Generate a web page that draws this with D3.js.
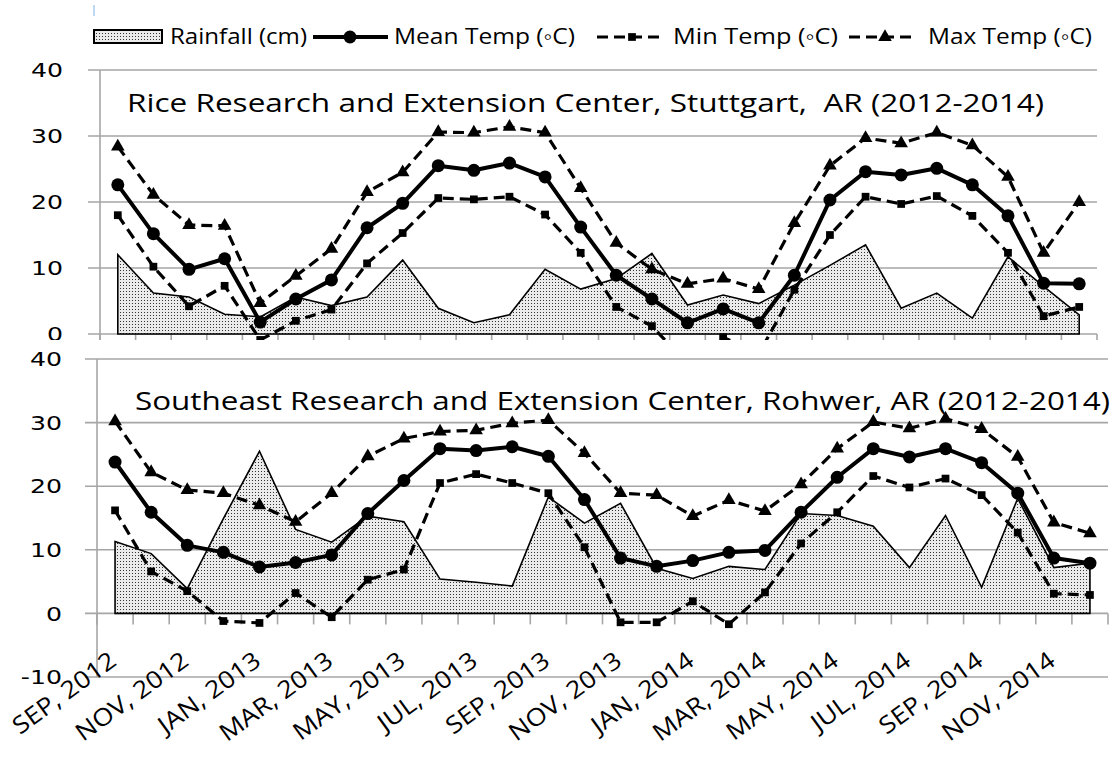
<!DOCTYPE html>
<html>
<head>
<meta charset="utf-8">
<script src="https://cdn.jsdelivr.net/npm/d3@7"></script>
<style>
  body { margin: 0; background: #fff; }
  svg text { font-family: "Open Sans", "Noto Sans", sans-serif; fill: #000; }
</style>
</head>
<body>
<svg id="chart" width="1116" height="761"></svg>
<script>
// Monthly climate, Sep 2012 – Dec 2014
const months = [
  "SEP, 2012","OCT, 2012","NOV, 2012","DEC, 2012",
  "JAN, 2013","FEB, 2013","MAR, 2013","APR, 2013","MAY, 2013","JUN, 2013",
  "JUL, 2013","AUG, 2013","SEP, 2013","OCT, 2013","NOV, 2013","DEC, 2013",
  "JAN, 2014","FEB, 2014","MAR, 2014","APR, 2014","MAY, 2014","JUN, 2014",
  "JUL, 2014","AUG, 2014","SEP, 2014","OCT, 2014","NOV, 2014","DEC, 2014"
];
const yTicks = [-10, 0, 10, 20, 30, 40];

const legendLabels = ["Rainfall (cm)", "Mean Temp (\u25e6C)", "Min Temp (\u25e6C)", "Max Temp (\u25e6C)"];

// Stuttgart
const stuttgartTitle = "Rice Research and Extension Center, Stuttgart,  AR (2012-2014)";
const stuttgartRain = [12.0, 6.2, 5.6, 3.0, 2.6, 5.6, 4.3, 5.6, 11.2, 3.9, 1.7, 2.9, 9.8, 6.8, 8.4, 12.2, 4.4, 5.9, 4.6, 7.4, 10.4, 13.5, 3.9, 6.2, 2.4, 11.7, 7.2, 2.9];
const stuttgartMean = [22.6, 15.2, 9.8, 11.4, 1.8, 5.3, 8.2, 16.1, 19.8, 25.5, 24.8, 25.9, 23.8, 16.2, 8.9, 5.3, 1.7, 3.8, 1.7, 8.9, 20.3, 24.6, 24.1, 25.1, 22.6, 17.9, 7.7, 7.6];
const stuttgartMin = [18.0, 10.2, 4.2, 7.3, -0.9, 2.0, 3.7, 10.7, 15.3, 20.6, 20.4, 20.8, 18.1, 12.3, 4.1, 1.2, -4.5, -0.5, -3.0, 6.7, 15.0, 20.8, 19.7, 20.9, 17.9, 12.3, 2.7, 4.1];
const stuttgartMax = [28.4, 21.1, 16.5, 16.4, 4.7, 8.8, 12.9, 21.5, 24.5, 30.6, 30.5, 31.4, 30.5, 22.1, 13.8, 9.8, 7.6, 8.4, 6.8, 16.8, 25.5, 29.7, 28.9, 30.5, 28.6, 23.8, 12.3, 20.0];

// Rohwer
const rohwerTitle = "Southeast Research and Extension Center, Rohwer, AR (2012-2014)";
const rohwerRain = [11.3, 9.4, 3.9, 14.9, 25.5, 13.2, 11.2, 15.3, 14.4, 5.4, 4.9, 4.3, 18.3, 14.2, 17.3, 7.1, 5.5, 7.4, 6.9, 15.7, 15.4, 13.7, 7.2, 15.4, 4.1, 18.1, 7.2, 7.9];
const rohwerMean = [23.8, 15.9, 10.7, 9.6, 7.3, 8.0, 9.2, 15.7, 20.9, 25.9, 25.6, 26.2, 24.7, 17.9, 8.7, 7.4, 8.3, 9.6, 9.9, 15.9, 21.4, 25.9, 24.6, 25.9, 23.7, 18.9, 8.7, 7.9];
const rohwerMin = [16.2, 6.6, 3.5, -1.2, -1.5, 3.2, -0.6, 5.3, 6.9, 20.5, 21.9, 20.5, 18.9, 10.4, -1.4, -1.4, 1.9, -1.7, 3.3, 11.0, 15.9, 21.6, 19.8, 21.2, 18.6, 12.7, 3.1, 2.9];
const rohwerMax = [30.2, 22.2, 19.4, 18.9, 17.0, 14.4, 18.9, 24.7, 27.5, 28.6, 28.8, 29.9, 30.4, 25.2, 18.9, 18.6, 15.3, 17.8, 16.1, 20.3, 25.9, 30.1, 29.1, 30.6, 29.0, 24.6, 14.3, 12.6];

const svg = d3.select("#chart");
const GRID = "#a6a6a6";

// dotted fill for the rainfall area
const defs = svg.append("defs");
const pat = defs.append("pattern").attr("id", "dots")
  .attr("patternUnits", "userSpaceOnUse").attr("width", 3).attr("height", 3);
pat.append("rect").attr("width", 3).attr("height", 3).attr("fill", "#ebebeb");
pat.append("rect").attr("width", 1).attr("height", 1).attr("fill", "#333");

const triangle = d3.symbol().type(d3.symbolTriangle).size(80)();
const square = d3.symbol().type(d3.symbolSquare).size(60)();

function drawPanel(cfg) {
  const g = svg.append("g");
  const x = d3.scaleBand().domain(months).range([cfg.x0, cfg.x1]).padding(0);
  const cx = m => x(m) + x.bandwidth() / 2;
  const y = d3.scaleLinear().domain([-10, 40]).range([cfg.yBottom, cfg.yTop]);

  // horizontal gridlines
  g.append("g").selectAll("line").data(cfg.gridTicks).join("line")
    .attr("x1", cfg.x0 - 12).attr("x2", cfg.x1)
    .attr("y1", d => y(d)).attr("y2", d => y(d))
    .attr("stroke", GRID).attr("stroke-width", 1.6);

  // value axis line
  g.append("line").attr("x1", cfg.x0).attr("x2", cfg.x0)
    .attr("y1", y(40)).attr("y2", cfg.axisEnd)
    .attr("stroke", GRID).attr("stroke-width", 1.6);

  // category tick marks hanging below the zero line
  const edges = months.map(m => x(m)).concat([cfg.x1]);
  g.append("g").selectAll("line").data(edges).join("line")
    .attr("x1", d => d).attr("x2", d => d)
    .attr("y1", y(0)).attr("y2", y(0) + cfg.tickLen)
    .attr("stroke", GRID).attr("stroke-width", 1.6);

  // value labels
  g.append("g").selectAll("text").data(cfg.labelTicks).join("text")
    .attr("transform", d => `translate(${cfg.labelX},${y(d)}) scale(1.26,1)`)
    .attr("text-anchor", "end").attr("dy", "0.36em")
    .style("font-family", "'DejaVu Sans', sans-serif")
    .attr("font-size", 20).text(d => d);

  // rainfall area
  const area = d3.area().x((d, i) => cx(months[i])).y0(y(0)).y1(d => y(d));
  g.append("path").datum(cfg.rain).attr("d", area)
    .attr("fill", "url(#dots)").attr("stroke", "#000").attr("stroke-width", 1.6)
    .attr("stroke-linejoin", "miter");

  const line = d3.line().x((d, i) => cx(months[i])).y(d => y(d));

  // min temperature
  g.append("path").datum(cfg.min).attr("d", line)
    .attr("fill", "none").attr("stroke", "#000").attr("stroke-width", 3.2)
    .attr("stroke-dasharray", "11,6");
  g.append("g").selectAll("path").data(cfg.min).join("path")
    .attr("d", square).attr("transform", (d, i) => `translate(${cx(months[i])},${y(d)})`);

  // max temperature
  g.append("path").datum(cfg.max).attr("d", line)
    .attr("fill", "none").attr("stroke", "#000").attr("stroke-width", 3.2)
    .attr("stroke-dasharray", "11,6");
  g.append("g").selectAll("path").data(cfg.max).join("path")
    .attr("d", triangle).attr("transform", (d, i) => `translate(${cx(months[i])},${y(d)})`);

  // mean temperature
  g.append("path").datum(cfg.mean).attr("d", line)
    .attr("fill", "none").attr("stroke", "#000").attr("stroke-width", 4)
    .attr("stroke-linejoin", "round");
  g.append("g").selectAll("circle").data(cfg.mean).join("circle")
    .attr("cx", (d, i) => cx(months[i])).attr("cy", d => y(d)).attr("r", 6.5);

  // station title
  g.append("text").attr("x", cfg.titleX0).attr("y", cfg.titleY)
    .attr("font-size", 26).attr("fill", "#111")
    .attr("textLength", cfg.titleX1 - cfg.titleX0).attr("lengthAdjust", "spacingAndGlyphs")
    .style("white-space", "pre").text(cfg.title);

  return { g, x, y, cx };
}

// upper panel: Stuttgart
drawPanel({
  x0: 100, x1: 1097, yTop: 70, yBottom: 400, axisEnd: 340, tickLen: 6,
  gridTicks: [0, 10, 20, 30, 40], labelTicks: [0, 10, 20, 30, 40], labelX: 63,
  rain: stuttgartRain, mean: stuttgartMean, min: stuttgartMin, max: stuttgartMax,
  title: stuttgartTitle, titleX0: 127, titleX1: 1044, titleY: 112
});

// lower panel sits on its own white sheet over the upper one
svg.append("rect").attr("x", 0).attr("y", 340).attr("width", 1116).attr("height", 421).attr("fill", "#fff");

const low = drawPanel({
  x0: 97, x1: 1108, yTop: 359, yBottom: 677, axisEnd: 677, tickLen: 11,
  gridTicks: yTicks, labelTicks: yTicks, labelX: 62,
  rain: rohwerRain, mean: rohwerMean, min: rohwerMin, max: rohwerMax,
  title: rohwerTitle, titleX0: 135, titleX1: 1110, titleY: 410
});

// month labels, every second month, slanted
const shown = months.filter((m, i) => i % 2 === 0);
low.g.append("g").selectAll("text").data(shown).join("text")
  .attr("transform", m => `translate(${low.cx(m) + 3},664) rotate(-36) scale(1.12,1)`)
  .attr("text-anchor", "end").attr("font-size", 24).text(m => m);

// legend
const lg = svg.append("g");
const legY = 37;
lg.append("line").attr("x1", 94).attr("x2", 94).attr("y1", 5).attr("y2", 16)
  .attr("stroke", "#7fb2e5").attr("stroke-width", 1);
lg.append("rect").attr("x", 94).attr("y", 30).attr("width", 68).attr("height", 13)
  .attr("fill", "url(#dots)").attr("stroke", "#000").attr("stroke-width", 2);
lg.append("line").attr("x1", 313).attr("x2", 388).attr("y1", legY).attr("y2", legY)
  .attr("stroke", "#000").attr("stroke-width", 4);
lg.append("circle").attr("cx", 350).attr("cy", legY).attr("r", 6.5);
lg.append("line").attr("x1", 597).attr("x2", 662).attr("y1", legY).attr("y2", legY)
  .attr("stroke", "#000").attr("stroke-width", 3.2).attr("stroke-dasharray", "11,6");
lg.append("path").attr("d", square).attr("transform", `translate(632,${legY})`);
lg.append("line").attr("x1", 849).attr("x2", 915).attr("y1", legY).attr("y2", legY)
  .attr("stroke", "#000").attr("stroke-width", 3.2).attr("stroke-dasharray", "11,6");
lg.append("path").attr("d", triangle).attr("transform", `translate(885,${legY})`);

const legText = [[170, 307], [394, 575], [673, 838], [928, 1092]];
lg.selectAll("text.leg").data(legendLabels).join("text").attr("class", "leg")
  .attr("x", (d, i) => legText[i][0]).attr("y", 44)
  .attr("font-size", 22).attr("fill", "#222")
  .attr("textLength", (d, i) => legText[i][1] - legText[i][0])
  .attr("lengthAdjust", "spacingAndGlyphs").text(d => d);
</script>
</body>
</html>
